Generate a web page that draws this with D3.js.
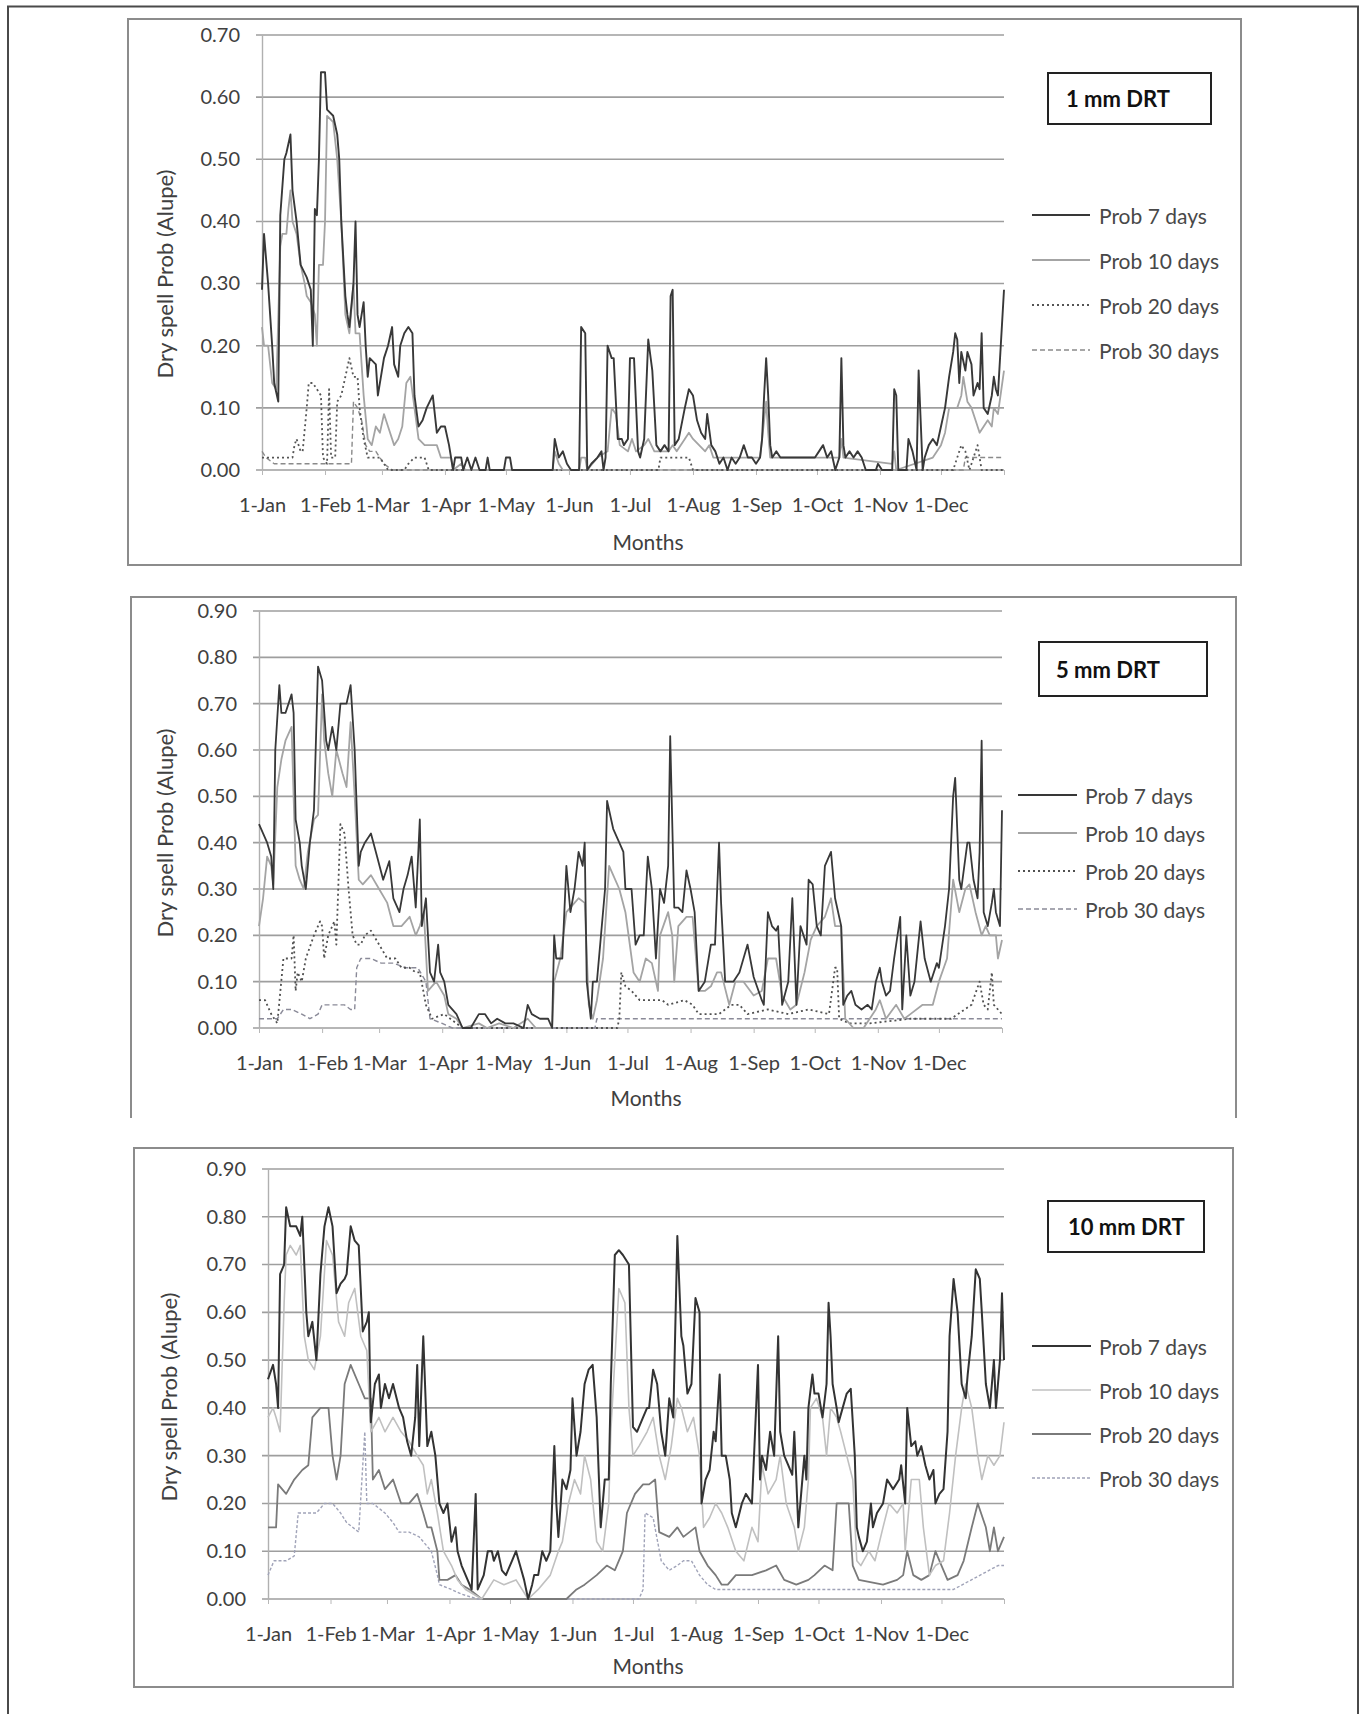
<!DOCTYPE html>
<html>
<head>
<meta charset="utf-8">
<script src="https://cdn.jsdelivr.net/npm/d3@7"></script>
<style>
  body { margin: 0; background: #fff; }
  svg text { font-family: Lato, "Open Sans", sans-serif; }
</style>
</head>
<body>
<script>
// axis + labels
const months = ["1-Jan", "1-Feb", "1-Mar", "1-Apr", "1-May", "1-Jun", "1-Jul", "1-Aug", "1-Sep", "1-Oct", "1-Nov", "1-Dec"];
const monthDays = [0, 31, 59, 90, 120, 151, 181, 212, 243, 273, 304, 334];
const seriesNames = ["Prob 7 days", "Prob 10 days", "Prob 20 days", "Prob 30 days"];
const drtLabels = ["1 mm DRT", "5 mm DRT", "10 mm DRT"];
const yMaxes = [0.7, 0.9, 0.9];
const yTitle = "Dry spell Prob (Alupe)";
const xTitle = "Months";

// 1 mm DRT, [day of year, probability]
const drt1_p7 = [[0,0.29],[1,0.38],[3,0.30],[5,0.20],[6,0.14],[8,0.11],[9,0.41],[11,0.50],[12,0.51],[14,0.54],[15,0.45],[17,0.40],[19,0.33],[22,0.31],[24,0.29],[25,0.20],[26,0.42],[27,0.41],[28,0.50],[29,0.64],[31,0.64],[32,0.58],[35,0.57],[37,0.54],[38,0.50],[39,0.40],[41,0.28],[42,0.25],[43,0.23],[45,0.30],[46,0.40],[47,0.25],[48,0.23],[50,0.27],[51,0.20],[52,0.15],[53,0.18],[56,0.17],[57,0.12],[60,0.18],[62,0.20],[64,0.23],[65,0.17],[67,0.15],[68,0.20],[70,0.22],[72,0.23],[74,0.22],[75,0.12],[77,0.07],[79,0.08],[81,0.10],[84,0.12],[86,0.06],[88,0.07],[90,0.07],[92,0.04],[94,0.00],[95,0.02],[98,0.02],[99,0.0],[101,0.02],[103,0.0],[105,0.02],[107,0.0],[110,0.0],[111,0.02],[112,0.0],[119,0.0],[120,0.02],[122,0.02],[123,0.0],[143,0.0],[144,0.05],[146,0.02],[148,0.03],[150,0.01],[152,0.0],[156,0.0],[157,0.23],[159,0.22],[160,0.0],[162,0.01],[165,0.02],[167,0.03],[168,0.0],[169,0.02],[170,0.20],[172,0.18],[173,0.18],[175,0.05],[177,0.05],[178,0.04],[180,0.05],[181,0.18],[183,0.18],[185,0.03],[186,0.02],[188,0.05],[190,0.21],[192,0.16],[194,0.04],[196,0.03],[198,0.04],[200,0.03],[201,0.28],[202,0.29],[203,0.04],[205,0.05],[208,0.10],[210,0.13],[212,0.12],[214,0.08],[216,0.06],[218,0.05],[219,0.09],[221,0.04],[223,0.03],[225,0.01],[227,0.02],[229,0.0],[231,0.02],[233,0.01],[235,0.02],[237,0.04],[239,0.02],[241,0.02],[243,0.01],[245,0.02],[246,0.05],[247,0.12],[248,0.18],[249,0.12],[250,0.04],[251,0.02],[253,0.03],[255,0.02],[272,0.02],[274,0.03],[276,0.04],[278,0.02],[280,0.03],[282,0.0],[284,0.02],[285,0.18],[286,0.04],[287,0.02],[289,0.03],[291,0.02],[293,0.03],[295,0.02],[297,0.0],[302,0.0],[303,0.01],[305,0.0],[310,0.0],[311,0.13],[312,0.12],[313,0.0],[317,0.0],[318,0.05],[320,0.03],[322,0.0],[323,0.16],[324,0.08],[325,0.0],[326,0.02],[328,0.04],[330,0.05],[332,0.04],[334,0.07],[336,0.10],[338,0.15],[340,0.19],[341,0.22],[342,0.21],[343,0.14],[344,0.19],[346,0.16],[347,0.19],[349,0.17],[350,0.12],[352,0.14],[353,0.13],[354,0.22],[355,0.10],[357,0.09],[359,0.12],[360,0.15],[361,0.13],[362,0.12],[365,0.29]];
const drt1_p10 = [[0,0.23],[1,0.20],[3,0.20],[5,0.14],[7,0.13],[9,0.36],[10,0.38],[12,0.38],[13,0.42],[14,0.45],[15,0.40],[17,0.38],[19,0.33],[21,0.30],[22,0.28],[24,0.27],[26,0.25],[27,0.20],[28,0.33],[30,0.33],[31,0.40],[32,0.57],[35,0.56],[37,0.50],[39,0.40],[41,0.25],[43,0.22],[45,0.30],[46,0.22],[48,0.22],[50,0.12],[52,0.05],[54,0.04],[56,0.07],[58,0.06],[60,0.09],[62,0.07],[65,0.04],[67,0.05],[69,0.07],[71,0.14],[73,0.15],[75,0.10],[77,0.05],[80,0.04],[86,0.04],[88,0.02],[93,0.02],[94,0.0],[98,0.01],[100,0.0],[143,0.0],[144,0.03],[146,0.01],[148,0.0],[156,0.0],[157,0.02],[159,0.02],[160,0.0],[165,0.02],[170,0.03],[172,0.10],[174,0.09],[176,0.04],[180,0.03],[182,0.05],[184,0.03],[188,0.04],[190,0.05],[193,0.03],[200,0.03],[202,0.04],[204,0.03],[208,0.05],[210,0.06],[212,0.05],[215,0.04],[218,0.03],[220,0.04],[222,0.02],[245,0.02],[247,0.08],[248,0.11],[249,0.06],[250,0.02],[284,0.02],[285,0.05],[286,0.02],[310,0.01],[311,0.03],[312,0.0],[330,0.02],[334,0.04],[336,0.06],[338,0.10],[340,0.10],[342,0.10],[344,0.12],[345,0.15],[347,0.11],[349,0.10],[351,0.08],[353,0.06],[355,0.07],[357,0.08],[359,0.07],[360,0.10],[362,0.09],[365,0.16]];
const drt1_p20 = [[0,0.02],[15,0.02],[16,0.04],[17,0.05],[19,0.03],[20,0.03],[22,0.10],[23,0.14],[25,0.14],[27,0.13],[29,0.12],[30,0.02],[32,0.01],[33,0.13],[34,0.02],[36,0.02],[37,0.11],[39,0.12],[41,0.15],[43,0.18],[45,0.15],[47,0.15],[48,0.10],[50,0.05],[52,0.02],[58,0.02],[60,0.01],[62,0.0],[70,0.0],[72,0.01],[75,0.02],[80,0.02],[82,0.0],[195,0.0],[196,0.02],[210,0.02],[212,0.0],[340,0.0],[342,0.02],[344,0.04],[346,0.03],[348,0.0],[350,0.02],[352,0.04],[354,0.0],[365,0.0]];
const drt1_p30 = [[0,0.03],[2,0.02],[6,0.01],[44,0.01],[45,0.11],[47,0.10],[49,0.08],[51,0.04],[53,0.03],[56,0.03],[60,0.01],[64,0.0],[345,0.0],[346,0.02],[364,0.02],[365,0.02]];

// 5 mm DRT
const drt5_p7 = [[0,0.44],[2,0.42],[4,0.40],[6,0.37],[7,0.30],[8,0.60],[10,0.74],[11,0.68],[13,0.68],[16,0.72],[17,0.68],[18,0.45],[20,0.40],[21,0.35],[23,0.30],[25,0.40],[27,0.47],[29,0.78],[31,0.75],[33,0.62],[34,0.60],[36,0.65],[38,0.60],[40,0.70],[43,0.70],[45,0.74],[47,0.60],[49,0.35],[50,0.38],[52,0.40],[55,0.42],[58,0.37],[61,0.32],[64,0.36],[66,0.28],[69,0.25],[71,0.30],[73,0.33],[75,0.37],[77,0.26],[79,0.45],[80,0.22],[82,0.28],[84,0.12],[86,0.10],[88,0.18],[89,0.12],[91,0.10],[93,0.05],[97,0.03],[100,0.0],[104,0.0],[108,0.03],[111,0.03],[114,0.01],[117,0.02],[121,0.01],[125,0.01],[130,0.0],[132,0.05],[134,0.03],[138,0.02],[142,0.02],[144,0.0],[145,0.20],[146,0.15],[149,0.15],[151,0.35],[153,0.25],[155,0.30],[157,0.38],[159,0.35],[160,0.40],[161,0.10],[163,0.02],[164,0.10],[166,0.10],[168,0.20],[170,0.30],[171,0.49],[174,0.43],[177,0.40],[179,0.38],[180,0.30],[183,0.30],[185,0.18],[187,0.20],[189,0.20],[191,0.37],[193,0.30],[195,0.15],[197,0.30],[199,0.27],[201,0.35],[202,0.63],[204,0.26],[206,0.26],[208,0.25],[210,0.34],[212,0.30],[214,0.25],[216,0.08],[219,0.10],[222,0.18],[224,0.18],[226,0.40],[227,0.27],[229,0.10],[231,0.10],[233,0.10],[236,0.12],[240,0.18],[243,0.11],[247,0.06],[248,0.05],[250,0.25],[252,0.22],[254,0.21],[255,0.22],[257,0.05],[260,0.10],[262,0.28],[264,0.05],[266,0.22],[269,0.18],[270,0.32],[272,0.31],[274,0.22],[276,0.20],[278,0.35],[281,0.38],[283,0.28],[286,0.22],[287,0.05],[289,0.07],[291,0.08],[293,0.05],[296,0.04],[299,0.05],[301,0.04],[303,0.10],[305,0.13],[306,0.10],[308,0.07],[310,0.08],[312,0.15],[315,0.24],[316,0.04],[318,0.20],[320,0.07],[322,0.10],[325,0.23],[327,0.15],[330,0.10],[333,0.14],[334,0.13],[337,0.22],[339,0.30],[341,0.50],[342,0.54],[344,0.32],[345,0.30],[348,0.40],[349,0.40],[351,0.32],[353,0.28],[354,0.38],[355,0.62],[356,0.25],[358,0.22],[360,0.27],[361,0.30],[362,0.25],[364,0.22],[365,0.47]];
const drt5_p10 = [[0,0.22],[2,0.28],[4,0.37],[6,0.35],[7,0.31],[9,0.52],[11,0.58],[13,0.62],[16,0.65],[18,0.35],[20,0.32],[22,0.30],[24,0.38],[27,0.45],[29,0.46],[31,0.72],[32,0.62],[34,0.55],[36,0.50],[38,0.60],[41,0.55],[43,0.52],[45,0.66],[47,0.50],[49,0.32],[51,0.31],[55,0.33],[59,0.30],[63,0.27],[66,0.22],[70,0.22],[74,0.24],[77,0.20],[79,0.22],[81,0.25],[83,0.08],[87,0.10],[91,0.07],[93,0.03],[97,0.02],[100,0.0],[108,0.01],[112,0.0],[118,0.01],[125,0.0],[132,0.02],[136,0.0],[144,0.0],[145,0.10],[148,0.15],[151,0.25],[155,0.27],[157,0.28],[160,0.27],[162,0.05],[164,0.02],[166,0.06],[169,0.15],[172,0.35],[174,0.33],[177,0.30],[180,0.25],[184,0.12],[187,0.10],[190,0.15],[193,0.14],[196,0.08],[197,0.20],[201,0.25],[203,0.20],[204,0.10],[206,0.22],[210,0.24],[213,0.24],[216,0.08],[219,0.08],[222,0.09],[225,0.12],[227,0.12],[231,0.05],[234,0.10],[238,0.10],[243,0.07],[247,0.08],[250,0.15],[254,0.15],[257,0.07],[261,0.04],[264,0.05],[268,0.12],[271,0.19],[274,0.22],[278,0.24],[281,0.28],[283,0.22],[286,0.22],[288,0.02],[292,0.0],[297,0.0],[303,0.04],[305,0.06],[308,0.02],[313,0.05],[317,0.02],[320,0.03],[326,0.05],[331,0.05],[334,0.10],[338,0.15],[341,0.32],[344,0.25],[347,0.30],[349,0.31],[352,0.25],[355,0.20],[357,0.22],[359,0.20],[362,0.20],[363,0.15],[365,0.19]];
const drt5_p20 = [[0,0.06],[3,0.06],[6,0.03],[9,0.01],[12,0.15],[16,0.15],[17,0.20],[18,0.08],[19,0.12],[21,0.10],[23,0.15],[27,0.20],[30,0.23],[31,0.22],[32,0.15],[34,0.20],[37,0.23],[38,0.18],[40,0.44],[42,0.42],[44,0.30],[46,0.20],[48,0.18],[50,0.18],[52,0.20],[55,0.21],[59,0.18],[63,0.15],[67,0.15],[70,0.13],[74,0.13],[77,0.12],[79,0.12],[82,0.05],[85,0.02],[91,0.03],[97,0.01],[100,0.0],[176,0.0],[177,0.02],[178,0.12],[180,0.09],[183,0.08],[187,0.06],[194,0.06],[198,0.06],[201,0.05],[209,0.06],[213,0.05],[216,0.03],[226,0.03],[232,0.05],[236,0.05],[240,0.03],[250,0.04],[260,0.03],[270,0.04],[280,0.03],[283,0.13],[284,0.13],[285,0.02],[290,0.01],[300,0.01],[320,0.02],[340,0.02],[350,0.05],[354,0.10],[356,0.05],[358,0.04],[360,0.12],[361,0.05],[365,0.03]];
const drt5_p30 = [[0,0.02],[9,0.02],[12,0.04],[16,0.04],[21,0.03],[25,0.02],[29,0.03],[31,0.05],[35,0.05],[42,0.05],[45,0.04],[47,0.04],[48,0.13],[50,0.15],[55,0.15],[60,0.14],[66,0.14],[72,0.13],[78,0.13],[82,0.10],[84,0.02],[90,0.01],[95,0.0],[165,0.0],[166,0.02],[215,0.02],[230,0.02],[250,0.02],[300,0.02],[365,0.02]];

// 10 mm DRT
const drt10_p7 = [[0,0.46],[2.5,0.49],[4,0.45],[5,0.40],[6,0.68],[8,0.70],[9,0.82],[11,0.78],[14,0.78],[16,0.76],[17,0.80],[19,0.60],[20,0.55],[22,0.58],[24,0.50],[26,0.68],[28,0.78],[30,0.82],[32,0.78],[34,0.64],[36,0.66],[38,0.67],[39,0.68],[41,0.78],[43,0.75],[45,0.74],[47,0.56],[49,0.58],[50,0.60],[51,0.37],[53,0.45],[55,0.47],[56,0.40],[58,0.45],[60,0.42],[62,0.45],[65,0.40],[67,0.38],[69,0.33],[71,0.30],[73,0.38],[74,0.49],[75,0.32],[77,0.55],[79,0.32],[81,0.35],[83,0.30],[85,0.20],[87,0.18],[89,0.20],[91,0.12],[93,0.15],[94,0.10],[96,0.07],[99,0.04],[101,0.02],[103,0.22],[104,0.02],[107,0.05],[109,0.10],[111,0.10],[112,0.08],[114,0.10],[116,0.06],[118,0.05],[121,0.08],[123,0.10],[125,0.07],[127,0.04],[129,0.0],[131,0.03],[132,0.05],[134,0.05],[136,0.10],[138,0.08],[140,0.10],[142,0.32],[143,0.20],[144,0.13],[146,0.25],[148,0.23],[150,0.27],[151,0.42],[153,0.30],[155,0.35],[157,0.45],[159,0.48],[161,0.49],[163,0.38],[165,0.15],[167,0.25],[169,0.25],[170,0.45],[172,0.72],[174,0.73],[176,0.72],[179,0.70],[181,0.36],[183,0.35],[186,0.38],[188,0.40],[189,0.40],[191,0.48],[193,0.45],[195,0.35],[197,0.30],[199,0.42],[201,0.38],[203,0.76],[205,0.55],[206,0.53],[208,0.43],[210,0.45],[212,0.63],[214,0.60],[215,0.20],[217,0.25],[219,0.27],[221,0.35],[222,0.33],[224,0.47],[225,0.30],[227,0.30],[229,0.25],[230,0.18],[232,0.15],[235,0.20],[237,0.22],[240,0.20],[243,0.49],[244,0.25],[245,0.30],[247,0.27],[249,0.35],[251,0.30],[253,0.55],[254,0.35],[256,0.30],[258,0.28],[260,0.26],[261,0.35],[263,0.15],[264,0.20],[266,0.30],[267,0.25],[268,0.40],[270,0.47],[271,0.43],[273,0.43],[275,0.38],[277,0.45],[278,0.62],[279,0.55],[280,0.45],[282,0.40],[283,0.37],[285,0.40],[287,0.43],[289,0.44],[291,0.30],[292,0.15],[293,0.13],[295,0.10],[297,0.12],[299,0.20],[300,0.15],[302,0.18],[305,0.20],[307,0.25],[310,0.23],[313,0.25],[314,0.28],[316,0.20],[317,0.40],[319,0.32],[321,0.33],[322,0.30],[324,0.32],[326,0.28],[328,0.25],[330,0.27],[331,0.20],[333,0.22],[335,0.23],[337,0.35],[338,0.55],[340,0.67],[342,0.60],[344,0.45],[346,0.42],[347,0.47],[349,0.55],[351,0.69],[353,0.67],[354,0.60],[356,0.45],[358,0.40],[360,0.50],[361,0.40],[363,0.50],[364,0.64],[365,0.50]];
const drt10_p10 = [[0,0.38],[2.5,0.40],[4,0.38],[6,0.35],[8,0.62],[9,0.72],[11,0.74],[14,0.72],[16,0.74],[18,0.55],[20,0.50],[23,0.48],[26,0.55],[29,0.75],[32,0.72],[35,0.58],[38,0.55],[40,0.62],[43,0.65],[46,0.55],[49,0.52],[51,0.35],[55,0.38],[58,0.35],[62,0.38],[66,0.35],[70,0.33],[74,0.30],[77,0.28],[79,0.22],[81,0.25],[84,0.18],[87,0.10],[91,0.07],[94,0.04],[98,0.02],[102,0.01],[106,0.0],[112,0.04],[117,0.03],[123,0.04],[129,0.0],[134,0.02],[140,0.05],[144,0.10],[146,0.12],[149,0.20],[152,0.25],[155,0.22],[157,0.30],[160,0.25],[163,0.12],[166,0.10],[169,0.20],[170,0.35],[174,0.65],[177,0.62],[179,0.40],[181,0.30],[184,0.32],[188,0.35],[191,0.38],[194,0.30],[197,0.25],[200,0.32],[203,0.42],[205,0.40],[208,0.35],[211,0.38],[214,0.30],[216,0.15],[219,0.17],[222,0.20],[225,0.18],[228,0.15],[232,0.10],[236,0.08],[240,0.15],[243,0.12],[245,0.28],[248,0.22],[252,0.25],[254,0.30],[257,0.20],[261,0.15],[263,0.10],[266,0.15],[268,0.25],[269,0.40],[272,0.42],[275,0.38],[277,0.30],[279,0.40],[282,0.38],[284,0.35],[287,0.30],[290,0.25],[292,0.08],[294,0.07],[298,0.10],[301,0.08],[305,0.15],[308,0.20],[312,0.18],[315,0.20],[316,0.10],[319,0.25],[323,0.25],[325,0.15],[328,0.05],[331,0.07],[335,0.08],[338,0.18],[341,0.30],[344,0.40],[346,0.45],[349,0.40],[352,0.30],[354,0.25],[357,0.30],[360,0.28],[363,0.30],[365,0.37]];
const drt10_p20 = [[0,0.15],[4,0.15],[5,0.24],[9,0.22],[13,0.25],[17,0.27],[20,0.28],[22,0.38],[26,0.40],[30,0.40],[32,0.30],[34,0.25],[36,0.30],[38,0.45],[41,0.49],[45,0.45],[48,0.42],[51,0.42],[52,0.25],[55,0.27],[58,0.23],[62,0.25],[66,0.20],[70,0.20],[74,0.22],[77,0.18],[79,0.15],[81,0.15],[84,0.10],[85,0.04],[89,0.04],[93,0.05],[96,0.03],[100,0.02],[106,0.0],[148,0.0],[153,0.02],[157,0.03],[163,0.05],[168,0.07],[172,0.06],[176,0.10],[178,0.18],[182,0.22],[186,0.24],[189,0.24],[192,0.25],[194,0.14],[199,0.13],[203,0.15],[206,0.13],[212,0.15],[214,0.10],[218,0.07],[222,0.05],[225,0.03],[228,0.03],[232,0.05],[240,0.05],[247,0.06],[252,0.07],[256,0.04],[262,0.03],[268,0.04],[271,0.05],[276,0.07],[280,0.06],[282,0.20],[288,0.20],[290,0.07],[293,0.04],[305,0.03],[312,0.04],[315,0.05],[317,0.10],[320,0.05],[324,0.04],[328,0.05],[331,0.10],[333,0.08],[337,0.04],[342,0.05],[345,0.08],[349,0.15],[352,0.20],[356,0.15],[358,0.10],[360,0.15],[362,0.10],[365,0.13]];
const drt10_p30 = [[0,0.05],[3,0.08],[9,0.08],[13,0.09],[15,0.18],[20,0.18],[24,0.18],[28,0.20],[32,0.20],[36,0.18],[39,0.16],[45,0.14],[48,0.35],[49,0.20],[52,0.20],[58,0.18],[62,0.16],[65,0.14],[70,0.14],[75,0.13],[81,0.10],[84,0.05],[85,0.03],[91,0.02],[96,0.01],[104,0.0],[184,0.0],[186,0.02],[187,0.18],[191,0.17],[195,0.08],[199,0.06],[203,0.07],[206,0.08],[210,0.08],[214,0.05],[218,0.03],[222,0.02],[260,0.02],[300,0.02],[340,0.02],[362,0.07],[365,0.07]];

// panel layout (pixels)
const panels = [
  { frame: [128, 19, 1241, 565], closed: true, x0: 262, x1: 1004, yTop: 35, yBot: 470,
    tickRight: 240, titleX: 164, titleY: 274, monthsX: 648, monthsY: 541,
    drt: [1048, 73, 1211, 124], drtTextX: 1066, legX: [1032, 1090, 1099], legY: [215, 260, 305, 350] },
  { frame: [131, 597, 1236, 1118], closed: false, x0: 259, x1: 1002, yTop: 611, yBot: 1028,
    tickRight: 237, titleX: 164, titleY: 833, monthsX: 646, monthsY: 1097,
    drt: [1039, 642, 1207, 696], drtTextX: 1056, legX: [1018, 1077, 1085], legY: [795, 833, 871, 909] },
  { frame: [134, 1148, 1233, 1687], closed: true, x0: 268, x1: 1004, yTop: 1169, yBot: 1599,
    tickRight: 246, titleX: 168, titleY: 1397, monthsX: 648, monthsY: 1665,
    drt: [1048, 1201, 1204, 1252], drtTextX: 1068, legX: [1032, 1091, 1099], legY: [1346, 1390, 1434, 1478] }
];

const panelData = [
  [drt1_p7, drt1_p10, drt1_p20, drt1_p30],
  [drt5_p7, drt5_p10, drt5_p20, drt5_p30],
  [drt10_p7, drt10_p10, drt10_p20, drt10_p30]
];

// line styles per panel, per series
const panelStyles = [
  [{c: "#383838", w: 1.9}, {c: "#a4a4a4", w: 1.8}, {c: "#555", w: 1.8, dash: "2,3"}, {c: "#8a8a8a", w: 1.4, dash: "5,3"}],
  [{c: "#383838", w: 1.8}, {c: "#a4a4a4", w: 1.8}, {c: "#505050", w: 1.8, dash: "2,3"}, {c: "#8a8a98", w: 1.4, dash: "5,3"}],
  [{c: "#333", w: 2}, {c: "#c0c0c0", w: 1.6}, {c: "#7a7a7a", w: 1.8}, {c: "#a0a3b8", w: 1.4, dash: "3,2"}]
];

const svg = d3.select("body").append("svg")
    .attr("width", 1360)
    .attr("height", 1714);

// outer frame, open at the bottom
svg.append("path")
    .attr("d", "M8,1714V6.5H1358V1714")
    .attr("fill", "none")
    .attr("stroke", "#4a4a4a")
    .attr("stroke-width", 2);

function drawPanel(p, i) {
  let g = svg.append("g");
  let [fl, ft, fr, fb] = p.frame;

  if (p.closed) {
    g.append("rect")
        .attr("x", fl).attr("y", ft)
        .attr("width", fr - fl).attr("height", fb - ft)
        .attr("fill", "none")
        .attr("stroke", "#8c8c8c")
        .attr("stroke-width", 2);
  } else {
    g.append("path")
        .attr("d", `M${fl},${fb}V${ft}H${fr}V${fb}`)
        .attr("fill", "none")
        .attr("stroke", "#8c8c8c")
        .attr("stroke-width", 2);
  }

  let x = d3.scaleLinear().domain([0, 365]).range([p.x0, p.x1]);
  let y = d3.scaleLinear().domain([0, yMaxes[i]]).range([p.yBot, p.yTop]);
  let yTicks = d3.range(0, yMaxes[i] + 0.001, 0.1);

  // gridlines
  g.append("g").selectAll("line")
      .data(yTicks)
      .join("line")
      .attr("x1", p.x0 - 6)
      .attr("x2", p.x1)
      .attr("y1", d => y(d))
      .attr("y2", d => y(d))
      .attr("stroke", "#9e9e9e")
      .attr("stroke-width", 1.6);

  // y axis
  let yAxis = g.append("g")
      .attr("transform", `translate(${p.x0},0)`)
      .call(d3.axisLeft(y).tickValues(yTicks).tickFormat(d3.format(".2f"))
          .tickSize(0).tickSizeOuter(0).tickPadding(p.x0 - p.tickRight));
  yAxis.attr("font-family", null).attr("font-size", null);
  yAxis.select(".domain").attr("stroke", "#b0b0b0").attr("stroke-width", 1.4);
  yAxis.selectAll("text")
      .attr("font-size", 20)
      .attr("fill", "#404040");

  // x axis
  let xAxis = g.append("g")
      .attr("transform", `translate(0,${p.yBot})`)
      .call(d3.axisBottom(x).tickValues(monthDays.concat([365]))
          .tickFormat(d => {
            let k = monthDays.indexOf(d);
            return k < 0 ? "" : months[k];
          })
          .tickSize(5).tickSizeOuter(0));
  xAxis.attr("font-family", null).attr("font-size", null);
  xAxis.select(".domain").remove();
  xAxis.selectAll("line").attr("stroke", "#b8b8b8");
  xAxis.selectAll("text")
      .attr("y", 35)
      .attr("dy", "0.35em")
      .attr("font-size", 20)
      .attr("fill", "#404040");

  // series
  let line = d3.line()
      .x(d => x(d[0]))
      .y(d => y(Math.max(0, d[1])));

  // draw light ones first so dark lines stay on top
  [3, 2, 1, 0].forEach(k => {
    let s = panelStyles[i][k];
    g.append("path")
        .datum(panelData[i][k])
        .attr("d", line)
        .attr("fill", "none")
        .attr("stroke", s.c)
        .attr("stroke-width", s.w)
        .attr("stroke-dasharray", s.dash || null)
        .attr("stroke-linejoin", "round");
  });

  // axis titles
  g.append("text")
      .attr("transform", `translate(${p.titleX},${p.titleY}) rotate(-90)`)
      .attr("text-anchor", "middle")
      .attr("dominant-baseline", "central")
      .attr("font-size", 22)
      .attr("fill", "#404040")
      .text(yTitle);

  g.append("text")
      .attr("x", p.monthsX)
      .attr("y", p.monthsY)
      .attr("text-anchor", "middle")
      .attr("dominant-baseline", "central")
      .attr("font-size", 21)
      .attr("fill", "#404040")
      .text(xTitle);

  // DRT box
  let [bl, bt, br, bb] = p.drt;
  g.append("rect")
      .attr("x", bl).attr("y", bt)
      .attr("width", br - bl).attr("height", bb - bt)
      .attr("fill", "#fff")
      .attr("stroke", "#222")
      .attr("stroke-width", 2);
  g.append("text")
      .attr("x", p.drtTextX)
      .attr("y", (bt + bb) / 2)
      .attr("dominant-baseline", "central")
      .attr("font-size", 22)
      .attr("font-weight", "bold")
      .attr("fill", "#111")
      .text(drtLabels[i]);

  // legend
  let leg = g.append("g").selectAll("g")
      .data(seriesNames)
      .join("g")
      .attr("transform", (d, k) => `translate(0,${p.legY[k]})`);
  leg.append("line")
      .attr("x1", p.legX[0])
      .attr("x2", p.legX[1])
      .attr("stroke", (d, k) => panelStyles[i][k].c)
      .attr("stroke-width", (d, k) => panelStyles[i][k].w)
      .attr("stroke-dasharray", (d, k) => panelStyles[i][k].dash || null);
  leg.append("text")
      .attr("x", p.legX[2])
      .attr("dominant-baseline", "central")
      .attr("font-size", 21)
      .attr("fill", "#484848")
      .text(d => d);
}

panels.forEach(drawPanel);
</script>
</body>
</html>
